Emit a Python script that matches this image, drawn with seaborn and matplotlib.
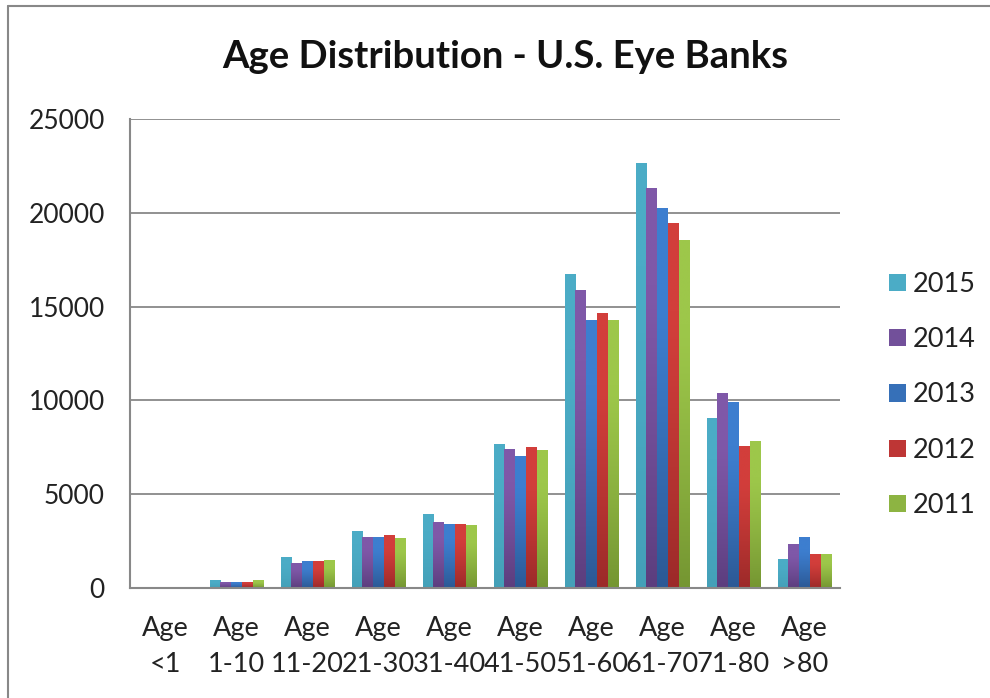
import matplotlib
matplotlib.use("Agg")
import matplotlib.pyplot as plt
import matplotlib.patches as mpatches
import matplotlib.colors as mcolors
from matplotlib.lines import Line2D
import numpy as np
import seaborn as sns
import pandas as pd

categories = ["Age\n<1", "Age\n1-10", "Age\n11-20", "Age\n21-30", "Age\n31-40",
              "Age\n41-50", "Age\n51-60", "Age\n61-70", "Age\n71-80", "Age\n>80"]
years = ["2015", "2014", "2013", "2012", "2011"]
v2015 = [0, 420, 1640, 3040, 3950, 7670, 16760, 22640, 9060, 1540]
v2014 = [0, 330, 1350, 2730, 3500, 7420, 15900, 21320, 10370, 2320]
v2013 = [0, 330, 1420, 2730, 3420, 7030, 14260, 20240, 9930, 2710]
v2012 = [0, 330, 1420, 2810, 3420, 7520, 14650, 19470, 7590, 1790]
v2011 = [0, 400, 1490, 2640, 3340, 7350, 14260, 18540, 7810, 1790]
yticks = [0, 5000, 10000, 15000, 20000, 25000]
title = "Age Distribution - U.S. Eye Banks"

top_colors = ["#4BACC6", "#7F58A8", "#3D7ECF", "#D23E3B", "#9DC74A"]
bottom_colors = ["#44A0B8", "#5C3E7E", "#2C5995", "#9C2A29", "#759632"]
mid_colors = ["#4BACC6", "#72509A", "#3670B8", "#BE3635", "#8DB442"]

rows = []
for yr, vals in zip(years, [v2015, v2014, v2013, v2012, v2011]):
    for c, v in zip(categories, vals):
        rows.append({"age": c, "year": yr, "value": v})
df = pd.DataFrame(rows)

sns.set_style("white")
plt.rcParams["font.family"] = ["Lato", "DejaVu Sans"]

fig = plt.figure(figsize=(9.9, 6.98), dpi=100)
ax = fig.add_axes([130 / 990, 1 - 588 / 698, 710 / 990, 469 / 698])

sns.barplot(data=df, x="age", y="value", hue="year", hue_order=years,
            order=categories, palette=top_colors, width=0.76, saturation=1,
            ax=ax, legend=False, linewidth=0)

# vertical gradient shading on each bar (Excel style)
top_rgb = [np.array(mcolors.to_rgb(c)) for c in top_colors]
bot_rgb = [np.array(mcolors.to_rgb(c)) for c in bottom_colors]
for p in list(ax.patches):
    fc = np.array(p.get_facecolor()[:3])
    idx = int(np.argmin([np.abs(fc - t).sum() for t in top_rgb]))
    h = p.get_height()
    if h <= 0:
        continue
    x0 = p.get_x()
    w = p.get_width()
    t = np.linspace(0, 1, 64)[:, None]  # 0 at top row
    shade = np.clip((t - 0.25) / 0.75, 0, 1) ** 1.2
    grad = top_rgb[idx][None, :] * (1 - shade) + bot_rgb[idx][None, :] * shade
    img = grad[:, None, :]
    im = ax.imshow(img, extent=[x0, x0 + w, 0, h], aspect="auto",
                   interpolation="bilinear", zorder=p.get_zorder() + 0.1, origin="upper")
    im.set_clip_path(p)

ax.set_ylim(0, 25000)
ax.set_xlim(-0.5, len(categories) - 0.5)
ax.set_aspect("auto")
ax.set_yticks(yticks)
ax.set_yticklabels([str(t) for t in yticks], fontsize=19, color="#222222")
ax.set_xticks(range(len(categories)))
ax.set_xticklabels(categories, fontsize=19.5, color="#222222", linespacing=1.55)
ax.set_xticks([i - 0.5 for i in range(len(categories) + 1)], minor=True)
ax.tick_params(axis="x", which="major", length=0, pad=20)
ax.tick_params(axis="x", which="minor", length=8, width=1.5, color="#888888", direction="out")
ax.tick_params(axis="y", which="major", length=8, width=1.5, color="#888888", direction="out", pad=10)
ax.set_xlabel("")
ax.set_ylabel("")
ax.grid(axis="y", color="#888888", linewidth=1.3)
ax.set_axisbelow(True)
for s in ["top", "right"]:
    ax.spines[s].set_visible(False)
for s in ["left", "bottom"]:
    ax.spines[s].set_color("#888888")
    ax.spines[s].set_linewidth(1.5)

fig.text(505 / 990, 1 - 57 / 698, title, ha="center", va="center",
         fontsize=27.5, fontweight="bold", color="#111111")

handles = [mpatches.Patch(facecolor=c, edgecolor="none", label=y) for c, y in zip(mid_colors, years)]
fig.legend(handles=handles, loc="center left", bbox_to_anchor=(865 / 990, 1 - 395 / 698),
           frameon=False, fontsize=19.5, handlelength=0.6, handleheight=0.6,
           handletextpad=0.25, labelspacing=1.12, labelcolor="#222222")

# outer chart border (top and left visible in reference)
fig.add_artist(Line2D([8 / 990, 8 / 990], [0, 1 - 6 / 698], transform=fig.transFigure,
                      color="#888888", linewidth=1.5))
fig.add_artist(Line2D([8 / 990, 1], [1 - 6 / 698, 1 - 6 / 698], transform=fig.transFigure,
                      color="#888888", linewidth=1.5))

fig.savefig("out.png", dpi=100)
